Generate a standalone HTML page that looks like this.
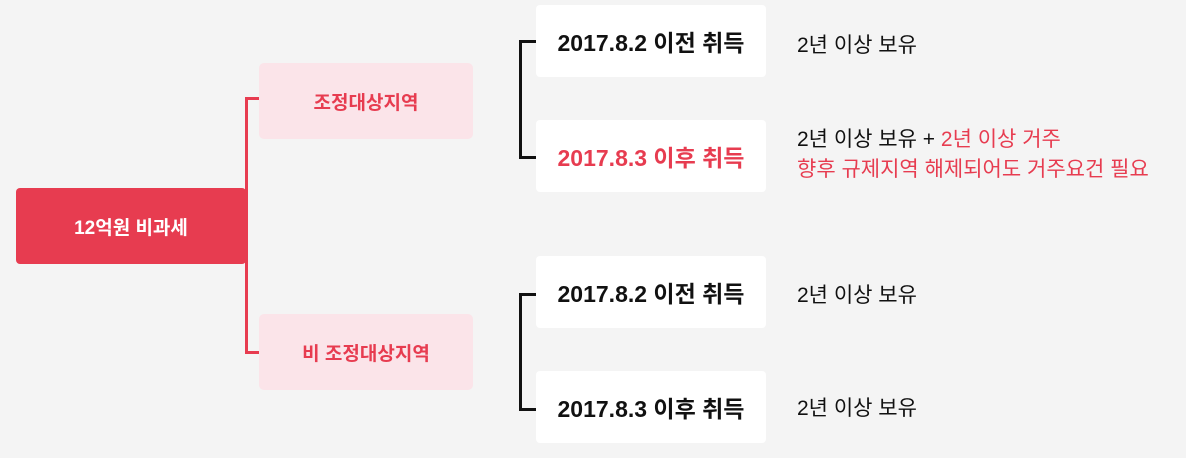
<!DOCTYPE html>
<html><head><meta charset="utf-8"><style>
body{margin:0;width:1186px;height:458px;background:#f4f4f4;position:relative;overflow:hidden;font-family:"Liberation Sans","Noto Sans CJK KR",sans-serif}
div{position:absolute;box-sizing:border-box}
.c{display:flex;align-items:center;justify-content:center}
.main{left:16px;top:188px;width:230px;height:76px;background:#e73c50;border-radius:4px;color:#fff;font-weight:bold;font-size:19px}
.pink{left:259px;width:214px;height:76px;background:#fbe4e9;border-radius:5px;color:#e73c50;font-weight:bold;font-size:19px}
.white{left:536px;width:230px;height:72px;background:#fff;border-radius:4px;font-weight:bold;font-size:23px;color:#111}
.t{left:797px;font-size:21px;color:#111;line-height:30px}
.red{color:#e73c50}
</style></head><body>
<div class="main c">12억원 비과세</div>
<div style="left:245px;top:97px;width:14px;height:257px;border:3px solid #e73c50;border-right:none"></div>
<div class="pink c" style="top:63px">조정대상지역</div>
<div class="pink c" style="top:314px">비 조정대상지역</div>
<div style="left:519px;top:40px;width:17px;height:119px;border:3px solid #111;border-right:none"></div>
<div style="left:519px;top:293px;width:17px;height:118px;border:3px solid #111;border-right:none"></div>
<div class="white c" style="top:5px">2017.8.2 이전 취득</div>
<div class="white c red" style="top:120px">2017.8.3 이후 취득</div>
<div class="white c" style="top:256px">2017.8.2 이전 취득</div>
<div class="white c" style="top:371px">2017.8.3 이후 취득</div>
<div class="t" style="top:31px">2년 이상 보유</div>
<div class="t" style="top:125px">2년 이상 보유 + <span class="red">2년 이상 거주</span><br><span class="red">향후 규제지역 해제되어도 거주요건 필요</span></div>
<div class="t" style="top:281px">2년 이상 보유</div>
<div class="t" style="top:394px">2년 이상 보유</div>
</body></html>
